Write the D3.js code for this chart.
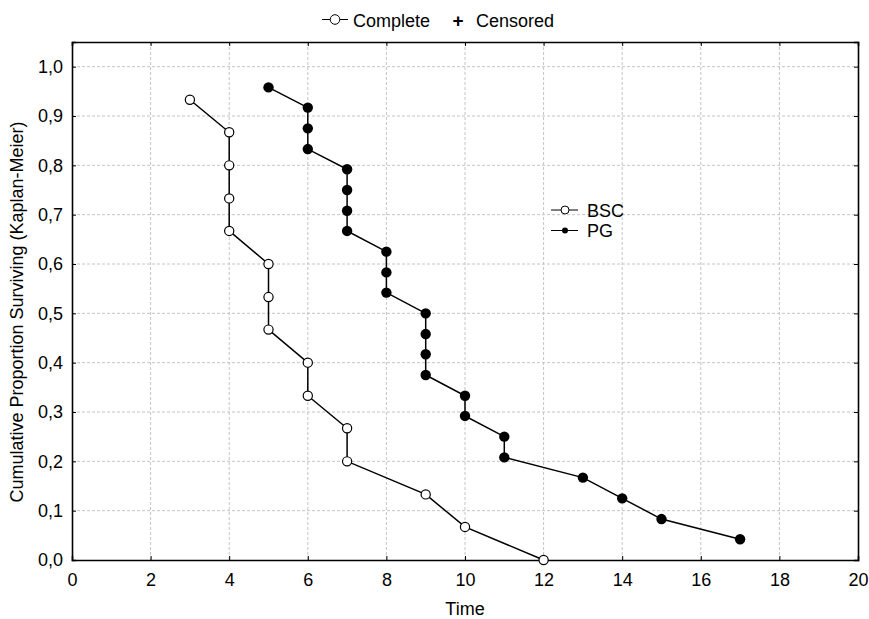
<!DOCTYPE html>
<html>
<head>
<meta charset="utf-8">
<script src="https://cdn.jsdelivr.net/npm/d3@7"></script>
<style>
  body { margin: 0; background: #fff; }
  text { font-family: "Liberation Sans", Arial, sans-serif; fill: #000; }
</style>
</head>
<body>
<svg id="chart" width="869" height="619"></svg>
<script>
// survival data (time, cumulative proportion surviving)
const bscTime = [3, 4, 4, 4, 4, 5, 5, 5, 6, 6, 7, 7, 9, 10, 12];
const bscSurv = [0.933, 0.867, 0.800, 0.733, 0.667, 0.600, 0.533, 0.467, 0.400, 0.333, 0.267, 0.200, 0.133, 0.067, 0.000];
const pgTime = [5, 6, 6, 6, 7, 7, 7, 7, 8, 8, 8, 9, 9, 9, 9, 10, 10, 11, 11, 13, 14, 15, 17];
const pgSurv = [0.958, 0.917, 0.875, 0.833, 0.792, 0.750, 0.708, 0.667, 0.625, 0.583, 0.542, 0.500, 0.458, 0.417, 0.375, 0.333, 0.292, 0.250, 0.208, 0.167, 0.125, 0.083, 0.042];
const xTicks = [0, 2, 4, 6, 8, 10, 12, 14, 16, 18, 20];
const yTicks = [0, 0.1, 0.2, 0.3, 0.4, 0.5, 0.6, 0.7, 0.8, 0.9, 1.0];

const svg = d3.select("#chart");
const pLeft = 72, pRight = 858, pTop = 42, pBottom = 560;
const fs = 18;

const x = d3.scaleLinear().domain([0, 20]).range([pLeft, pRight]);
const y = d3.scaleLinear().domain([0, 1.05]).range([pBottom, pTop]);

// 网格线
const g = svg.append("g");
g.selectAll(".vgrid").data(xTicks.slice(1, -1)).join("line")
  .attr("x1", d => x(d)).attr("x2", d => x(d))
  .attr("y1", pTop).attr("y2", pBottom)
  .attr("stroke", "#c4c4c4").attr("stroke-width", 1).attr("stroke-dasharray", "3,2");
g.selectAll(".hgrid").data(yTicks.slice(1)).join("line")
  .attr("x1", pLeft).attr("x2", pRight)
  .attr("y1", d => y(d)).attr("y2", d => y(d))
  .attr("stroke", "#c4c4c4").attr("stroke-width", 1).attr("stroke-dasharray", "3,2");

// 坐标轴 (刻度朝内)
const fmt = d => d3.format(".1f")(d).replace(".", ",");
svg.append("g").attr("transform", `translate(0,${pBottom})`)
  .call(d3.axisBottom(x).tickValues(xTicks).tickSize(-4).tickPadding(13))
  .call(a => a.selectAll("text").attr("font-size", fs));
svg.append("g").attr("transform", `translate(${pLeft},0)`)
  .call(d3.axisLeft(y).tickValues(yTicks).tickFormat(fmt).tickSize(-4).tickPadding(9))
  .call(a => a.selectAll("text").attr("font-size", fs));
svg.append("g").attr("transform", `translate(0,${pTop})`)
  .call(d3.axisTop(x).tickValues(xTicks).tickSize(-4).tickFormat(""));
svg.append("g").attr("transform", `translate(${pRight},0)`)
  .call(d3.axisRight(y).tickValues(yTicks).tickSize(-4).tickFormat(""));
svg.selectAll(".domain").attr("stroke", "#000").attr("stroke-width", 1.6);
svg.selectAll(".tick line").attr("stroke", "#000");
svg.selectAll(".tick text").attr("font-family", "Liberation Sans, Arial, sans-serif").attr("fill", "#000");

// 曲线
const line = d3.line().x(d => x(d[0])).y(d => y(d[1]));
const bsc = bscTime.map((t, i) => [t, bscSurv[i]]);
const pg = pgTime.map((t, i) => [t, pgSurv[i]]);

svg.append("path").datum(bsc).attr("d", line)
  .attr("fill", "none").attr("stroke", "#000").attr("stroke-width", 1.5);
svg.append("path").datum(pg).attr("d", line)
  .attr("fill", "none").attr("stroke", "#000").attr("stroke-width", 1.5);

svg.selectAll(".bsc").data(bsc).join("circle")
  .attr("cx", d => x(d[0])).attr("cy", d => y(d[1])).attr("r", 4.6)
  .attr("fill", "#fff").attr("stroke", "#000").attr("stroke-width", 1.2);
svg.selectAll(".pg").data(pg).join("circle")
  .attr("cx", d => x(d[0])).attr("cy", d => y(d[1])).attr("r", 5.2)
  .attr("fill", "#000");

// 图例 (图内)
const lg = svg.append("g");
lg.append("line").attr("x1", 551).attr("x2", 578).attr("y1", 210).attr("y2", 210).attr("stroke", "#000");
lg.append("circle").attr("cx", 565).attr("cy", 210).attr("r", 4).attr("fill", "#fff").attr("stroke", "#000");
lg.append("text").attr("x", 587).attr("y", 216.5).attr("font-size", fs).text("BSC");
lg.append("line").attr("x1", 551).attr("x2", 578).attr("y1", 230.5).attr("y2", 230.5).attr("stroke", "#000");
lg.append("circle").attr("cx", 565).attr("cy", 230.5).attr("r", 3).attr("fill", "#000");
lg.append("text").attr("x", 587).attr("y", 237).attr("font-size", fs).text("PG");

// 顶部图例
const tg = svg.append("g");
tg.append("line").attr("x1", 322).attr("x2", 348).attr("y1", 19.5).attr("y2", 19.5).attr("stroke", "#000");
tg.append("circle").attr("cx", 335).attr("cy", 19.5).attr("r", 4.8).attr("fill", "#fff").attr("stroke", "#000");
tg.append("text").attr("x", 353).attr("y", 26.5).attr("font-size", fs).text("Complete");
tg.append("text").attr("x", 458).attr("y", 26.5).attr("font-size", 19).attr("font-weight", "bold")
  .attr("text-anchor", "middle").text("+");
tg.append("text").attr("x", 476).attr("y", 26.5).attr("font-size", fs).text("Censored");

// 轴标题
svg.append("text").attr("x", 465).attr("y", 615).attr("text-anchor", "middle")
  .attr("font-size", fs).text("Time");
svg.append("text").attr("transform", `translate(23,312) rotate(-90)`)
  .attr("text-anchor", "middle").attr("font-size", fs).text("Cumulative Proportion Surviving (Kaplan-Meier)");
</script>
</body>
</html>
